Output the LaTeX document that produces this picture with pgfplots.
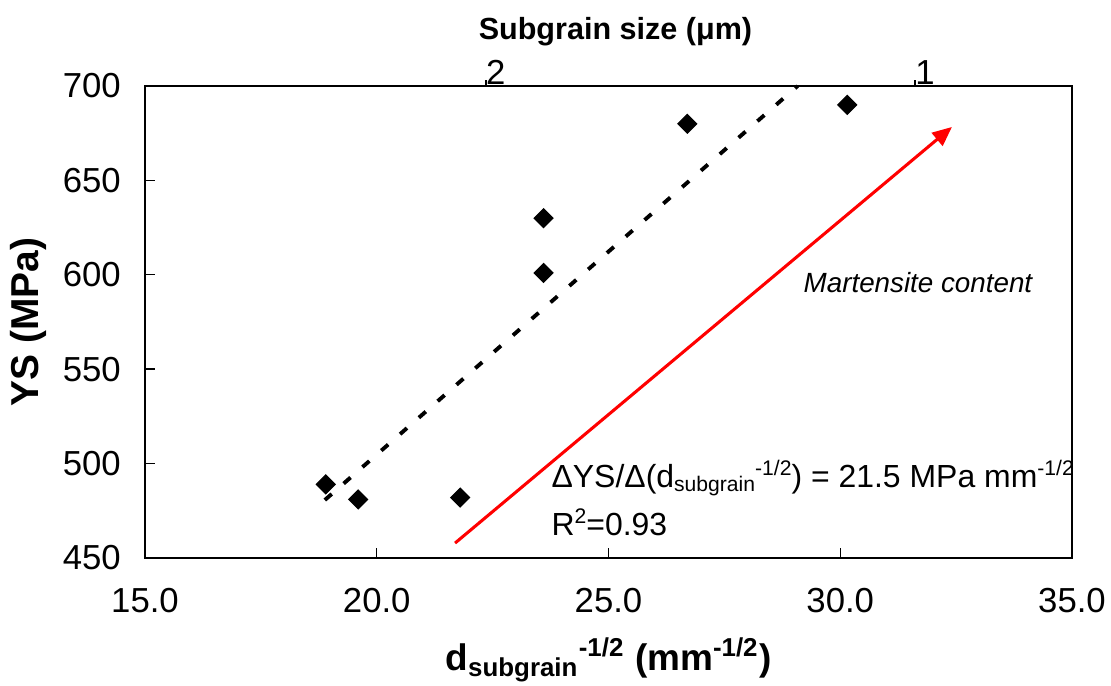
\documentclass[border=0pt]{standalone}
\usepackage{fontspec}
\setmainfont{Liberation Sans}
\usepackage{pgfplots}
\pgfplotsset{compat=1.18}
\usetikzlibrary{arrows.meta}

\begin{document}
\begin{tikzpicture}
\path[use as bounding box] (-52.2pt,-46.08pt) rectangle (347.74pt,200.86pt);
\begin{axis}[
  at={(0,0)}, anchor=south west,
  scale only axis, width=333.7pt, height=169.9pt,
  xmin=15, xmax=35, ymin=450, ymax=700,
  xtick={15,20,25,30,35}, ytick={450,500,550,600,650,700},
  xtick pos=left, ytick pos=left,
  tick align=inside,
  major tick length=3.6pt,
  axis line style={line width=0.6pt},
  tick style={line width=0.5pt, black},
  /pgf/number format/assume math mode=true,
  tick label style={font=\fontsize{12.5}{14}\selectfont},
  xticklabel style={/pgf/number format/fixed,/pgf/number format/fixed zerofill,/pgf/number format/precision=1, yshift=-7.5pt},
  yticklabel style={xshift=-5.2pt},
  xlabel={\textbf{d\textsubscript{subgrain}\textsuperscript{-1/2} (mm\textsuperscript{-1/2})}},
  xlabel style={font=\fontsize{13.3}{15}\selectfont, at={(rel axis cs:0.5,0)}, anchor=center, yshift=-36.7pt},
  clip=false,
]
\addplot[only marks, mark=square*, mark size=2.4pt, mark options={rotate=45, fill=black, draw=black}] coordinates {
  (18.9,489) (19.6,481) (21.8,482) (23.6,630) (23.6,601) (26.7,680) (30.15,690)
};
\addplot[black, line width=1.4pt, dash pattern=on 3.3pt off 5.7pt] coordinates {
  (18.88,480.7) (29.08,700)
};
\addplot[red, line width=1.1pt, -{Triangle[length=7pt,width=6pt]}] coordinates {
  (21.69,457.9) (32.41,678.3)
};
\node[rotate=90, anchor=center, font=\fontsize{14}{16}\selectfont\bfseries] at ([xshift=-42.1pt]rel axis cs:0,0.5) {YS (MPa)};
\node[anchor=west, inner sep=0pt, font=\fontsize{10}{12}\selectfont\itshape] at (axis cs:29.2,596) {Martensite content};
\node[anchor=west, inner sep=0pt, font=\fontsize{11.5}{13}\selectfont] at (axis cs:23.76,492.4) {ΔYS/Δ(d{\fontsize{7.6}{9}\selectfont\raisebox{-0.4ex}{subgrain}\raisebox{1.1ex}{-1/2}}) = 21.5 MPa mm{\fontsize{7.6}{9}\selectfont\raisebox{1.1ex}{-1/2}}};
\node[anchor=west, inner sep=0pt, font=\fontsize{11.5}{13}\selectfont] at (axis cs:23.76,469) {R{\fontsize{7.6}{9}\selectfont\raisebox{1.1ex}{2}}=0.93};
\end{axis}
\begin{axis}[
  at={(0,0)}, anchor=south west,
  scale only axis, width=333.7pt, height=169.9pt,
  xmin=15, xmax=35, ymin=0, ymax=1,
  axis x line*=top, axis y line=none,
  xtick={22.36,31.62}, xticklabels={2,1},
  tick align=outside, major tick length=2pt,
  tick style={line width=0.8pt, black},
  axis line style={line width=0.6pt},
  tick label style={font=\fontsize{12.5}{14}\selectfont},
  xticklabel style={xshift=3.5pt, yshift=-5pt},
  xlabel={\textbf{Subgrain size (μm)}},
  xlabel style={font=\fontsize{11}{13}\selectfont, at={(rel axis cs:0.5,1)}, anchor=center, yshift=19.4pt, xshift=2.5pt},
]
\end{axis}
\end{tikzpicture}
\end{document}
